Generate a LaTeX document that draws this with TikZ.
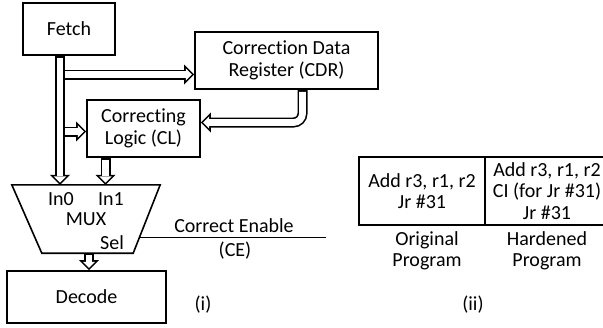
\documentclass[tikz,border=0pt]{standalone}
\usepackage{fontspec}
\setmainfont{Carlito}[Ligatures=NoCommon]
\usetikzlibrary{arrows.meta, positioning, calc}

\begin{document}
\begin{tikzpicture}
[x=1pt, y=-1pt,
every node/.style={font=\fontsize{20pt}{21.5pt}\selectfont},
box/.style={rectangle, draw=black, line width=1.6pt, align=center, inner sep=0pt},
cell/.style={rectangle, draw=black, line width=1.6pt, align=center, inner sep=2pt, outer sep=0pt, minimum height=68pt},
bus/.style={line width=10pt, -{Triangle[length=10pt, width=20pt, line width=0pt]},
  postaction={draw=white, line width=6.8pt, shorten <=2pt, shorten >=2.3pt,
    -{Triangle[length=6.1pt, width=12.2pt, line width=0pt]}}},
wire/.style={line width=0.8pt}]

\useasboundingbox (0,0) rectangle (603,327);
\clip (0,0) rectangle (603,327);

% (i) pipeline with the correcting path
\node[box, minimum width=92pt, minimum height=52pt] (fetch) at (69,29) {Fetch};
\node[box, minimum width=183pt, minimum height=57pt] (cdr) at (286.5,60.5) {Correction Data\\Register (CDR)};
\node[box, minimum width=113pt, minimum height=57pt] (cl) at (143.5,128.5) {Correcting\\Logic (CL)};
\node[inner sep=0pt, minimum width=148pt, minimum height=68pt] (mux) at (86,219) {MUX};
\node[box, minimum width=159pt, minimum height=52pt] (decode) at (86.5,297) {Decode};

% mux outline, narrower at the bottom
\coordinate (muxse) at ([xshift=-27pt]mux.south east);
\coordinate (muxsw) at ([xshift=30pt]mux.south west);
\draw[line width=1.6pt] (mux.north west) -- (mux.north east) -- (muxse) -- (muxsw) -- cycle;

\node (in0) at (61,199) {In0};
\node (in1) at (111,199) {In1};
\node (sel) at (112,243) {Sel};

\coordinate (spine) at ([xshift=-9pt]fetch.south);
\coordinate (cdrin) at ([yshift=-14pt]cdr.west);
\coordinate (clin) at ([yshift=-3pt]cl.west);
\coordinate (clout) at ([xshift=-38pt]cl.south);
\coordinate (muxout) at ([xshift=3pt]mux.south);

\draw[bus] (spine) -- (spine |- mux.north);
\draw[bus] ($(spine |- cdrin)+(3,0)$) -- (cdrin);
\draw[bus] ($(spine |- clin)+(3,0)$) -- (clin);
\draw[bus, rounded corners=9pt] ([xshift=16pt]cdr.south) |- ([yshift=6pt]cl.east);
\draw[bus] (clout) -- (clout |- mux.north);
\draw[bus] (muxout) -- (muxout |- decode.north);

% select line
\coordinate (selpin) at ($(mux.north east)!0.765!(muxse)$);
\coordinate (ceend) at (326,237);
\draw[wire] (selpin) -- (selpin -| ceend);
\node[anchor=base] (cetext) at (234,232) {Correct Enable};
\node[anchor=base] (ceabbr) at (235,256) {(CE)};

\node (parti) at (203,305) {(i)};

% (ii) program listings
\node[cell, minimum width=126pt] (orig) at (422,191) {Add r3, r1, r2\\Jr \#31};
\node[cell, minimum width=124pt, right=0pt of orig] (hard) {Add r3, r1, r2\\CI (for Jr \#31)\\Jr \#31};
\node[below=6pt of orig, inner sep=0pt, xshift=5pt, align=center] (origname) {Original\\Program};
\node[below=6pt of hard, inner sep=0pt, align=center] (hardname) {Hardened\\Program};

\node (partii) at (473,305) {(ii)};
\end{tikzpicture}
\end{document}
